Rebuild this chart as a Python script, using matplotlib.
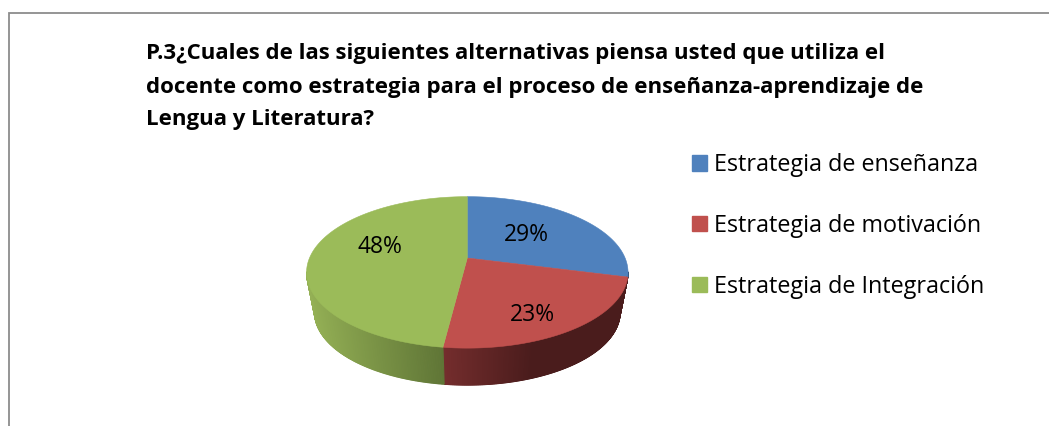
import numpy as np
import matplotlib
matplotlib.use("Agg")
import matplotlib.pyplot as plt
from matplotlib.patches import Patch, Polygon
from matplotlib.colors import to_rgb

plt.rcParams["font.family"] = ["Open Sans", "DejaVu Sans"]

title_lines = [
    "P.3¿Cuales de las siguientes alternativas piensa usted que utiliza el",
    "docente como estrategia para el proceso de enseñanza-aprendizaje de",
    "Lengua y Literatura?",
]
categories = ["Estrategia de enseñanza", "Estrategia de motivación", "Estrategia de Integración"]
values = [29, 23, 48]
colors = ["#4f81bd", "#c0504d", "#9bbb59"]
side_light = ["#3c618e", "#742d2d", "#94b055"]
side_dark = ["#2c4768", "#4a1c1c", "#5f7536"]

# pie geometry in pixels, perspective view of a flat disc
cx, cy = 467.3, 272
apex_y = 258
persp = 0.19
scale_x, scale_y = 157.8, 73

label_pos = [(526, 235), (532, 315), (380, 247)]


def rim_point(t):
    v = -np.cos(t)
    d = 1 - persp * v
    return cx + scale_x * np.sin(t) / d, apex_y + scale_y * v / d


def lower_point(p):
    # same rim point on the bottom of the wall, a bit narrower because further away
    return cx + (p[0] - cx) * 0.95, cy + 40 + (p[1] - cy) * 0.96


fig = plt.figure(figsize=(10.49, 4.26), dpi=100)
ax = fig.add_axes([0, 0, 1, 1])
ax.set_xlim(0, 1049)
ax.set_ylim(426, 0)
ax.axis("off")

# chart frame, only top and left show in the crop
ax.plot([8.5, 8.5, 1049], [426, 13, 13], color="#8c8c8c", lw=1.3, solid_joinstyle="miter")

fractions = np.cumsum([0] + values) / sum(values) * 2 * np.pi

# side wall first, then the top faces
for i in range(len(values)):
    ts = np.linspace(fractions[i], fractions[i + 1], 400)
    pts = np.array([rim_point(t) for t in ts])
    seen = pts[pts[:, 1] > cy, 0]
    if len(seen) == 0:
        continue
    x_a, x_b = seen.min(), seen.max()
    light, dark = np.array(to_rgb(side_light[i])), np.array(to_rgb(side_dark[i]))
    for p, q in zip(pts[:-1], pts[1:]):
        if p[1] < cy and q[1] < cy:
            continue
        mid = (p[0] + q[0]) / 2
        if i == 1:
            # red wall goes dark quickly from its left end
            k = min((mid - x_a) / 90, 1)
        else:
            k = (mid - x_a) / (x_b - x_a)
        col = light + (dark - light) * k
        quad = [p, q, lower_point(q), lower_point(p)]
        ax.add_patch(Polygon(quad, closed=True, fc=col, ec=col, lw=0.8))

for i in range(len(values)):
    ts = np.linspace(fractions[i], fractions[i + 1], 200)
    pts = [rim_point(t) for t in ts]
    ax.add_patch(Polygon([(cx, apex_y)] + pts, closed=True, fc=colors[i], ec=colors[i], lw=0.4))

for v, (lx, ly) in zip(values, label_pos):
    ax.text(lx, ly, f"{v}%", fontsize=16.5, color="black", ha="center", va="center")

for line, y in zip(title_lines, [53, 88, 120]):
    ax.text(146, y, line, fontsize=16.05, fontweight="bold", color="black", ha="left", va="center")

handles = [Patch(fc=c, ec=c, label=n) for c, n in zip(colors, categories)]
ax.legend(
    handles=handles,
    loc="upper left",
    bbox_to_anchor=(692 / 1049, 1 - 153 / 426),
    borderaxespad=0,
    borderpad=0,
    frameon=False,
    fontsize=16.8,
    labelspacing=1.58,
    handlelength=0.64,
    handleheight=0.64,
    handletextpad=0.3,
)

fig.savefig("out.png", dpi=100)
